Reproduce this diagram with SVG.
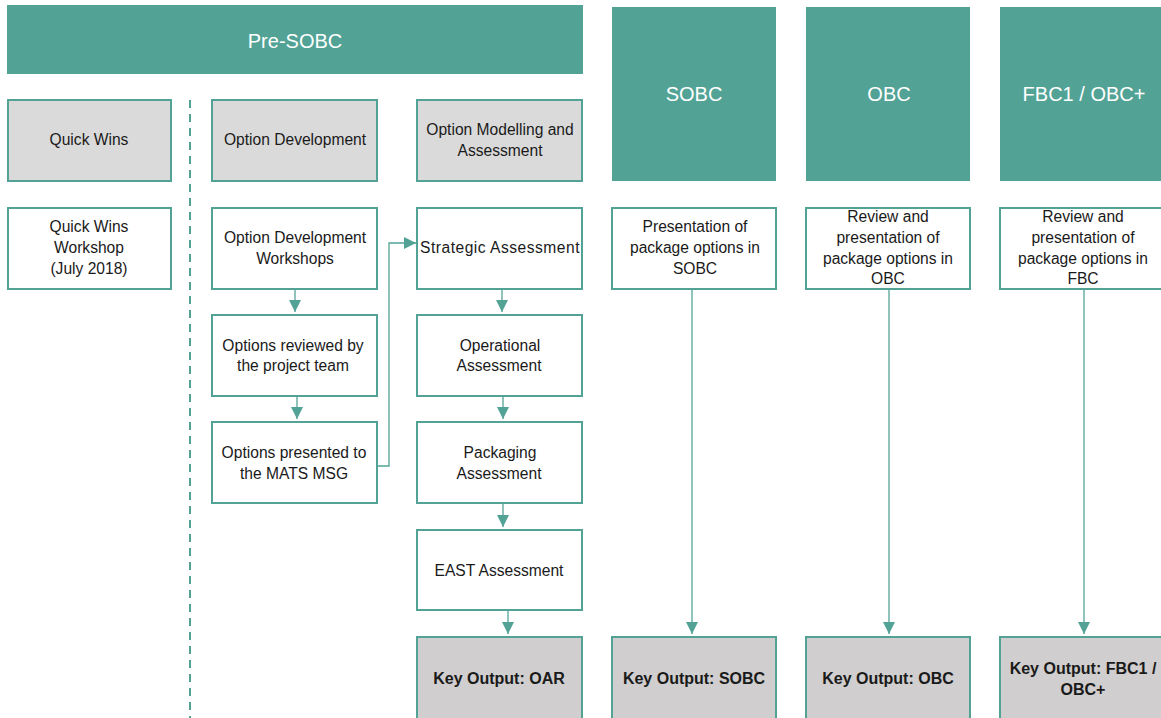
<svg xmlns="http://www.w3.org/2000/svg" width="1161" height="718" viewBox="0 0 1161 718">
<style>
text{font-family:"Liberation Sans",Arial,sans-serif;font-size:15.6px;fill:#1a1a1a;text-anchor:middle}
.hd{fill:#52A396}
.hd-t{fill:#ffffff;font-size:20px}
.g{fill:#DADADA;stroke:#52A396;stroke-width:2}
.w{fill:#ffffff;stroke:#52A396;stroke-width:2}
.k{fill:#D0CECE;stroke:#52A396;stroke-width:2}
.kt{font-weight:bold;font-size:16px}
.c{fill:none;stroke:#52A396;stroke-width:1.3}
</style>
<defs>
<marker id="ah" markerWidth="12" markerHeight="12" refX="12" refY="6" orient="auto" markerUnits="userSpaceOnUse">
<path d="M0,0 L12,6 L0,12 Z" fill="#52A396"/>
</marker>
</defs>
<g id="hdr-presobc"><rect class="hd" x="7" y="5" width="576" height="69"/><text class="hd-t" x="295" y="48">Pre-SOBC</text></g>
<g id="hdr-sobc"><rect class="hd" x="612" y="7" width="164" height="174"/><text class="hd-t" x="694" y="101">SOBC</text></g>
<g id="hdr-obc"><rect class="hd" x="806" y="7" width="164" height="174"/><text class="hd-t" x="889" y="101">OBC</text></g>
<g id="hdr-fbc"><rect class="hd" x="1000" y="7" width="161" height="174"/><text class="hd-t" x="1084" y="101">FBC1 / OBC+</text></g>

<line x1="190" y1="100" x2="190" y2="718" stroke="#52A396" stroke-width="2" stroke-dasharray="8,6"/>

<g id="quick-wins"><rect class="g" x="8" y="100" width="163" height="81"/><text x="89" y="145">Quick Wins</text></g>
<g id="option-dev"><rect class="g" x="212" y="100" width="165" height="81"/><text x="295" y="145">Option Development</text></g>
<g id="option-model"><rect class="g" x="417" y="100" width="165" height="81"/><text x="500" y="135">Option Modelling and</text><text x="500" y="156">Assessment</text></g>

<g id="qw-workshop"><rect class="w" x="8" y="208" width="163" height="81"/><text x="89" y="232">Quick Wins</text><text x="89" y="253">Workshop</text><text x="89" y="274">(July 2018)</text></g>
<g id="od-workshops"><rect class="w" x="212" y="208" width="165" height="81"/><text x="295" y="243">Option Development</text><text x="295" y="264">Workshops</text></g>
<g id="opts-reviewed"><rect class="w" x="212" y="315" width="165" height="81"/><text x="293" y="351">Options reviewed by</text><text x="293" y="371">the project team</text></g>
<g id="opts-presented"><rect class="w" x="212" y="422" width="165" height="81"/><text x="294" y="458">Options presented to</text><text x="294" y="479">the MATS MSG</text></g>

<g id="strategic"><rect class="w" x="417" y="208" width="165" height="81"/><text x="500" y="253" style="letter-spacing:0.5px">Strategic Assessment</text></g>
<g id="operational"><rect class="w" x="417" y="315" width="165" height="81"/><text x="500" y="351">Operational</text><text x="499" y="371">Assessment</text></g>
<g id="packaging"><rect class="w" x="417" y="422" width="165" height="81"/><text x="500" y="458">Packaging</text><text x="499" y="479">Assessment</text></g>
<g id="east"><rect class="w" x="417" y="530" width="165" height="80"/><text x="499" y="576">EAST Assessment</text></g>

<g id="sobc-pres"><rect class="w" x="612" y="208" width="164" height="81"/><text x="695" y="232">Presentation of</text><text x="695" y="253">package options in</text><text x="695" y="274">SOBC</text></g>
<g id="obc-review"><rect class="w" x="806" y="208" width="164" height="81"/><text x="888" y="222">Review and</text><text x="888" y="243">presentation of</text><text x="888" y="264">package options in</text><text x="888" y="284">OBC</text></g>
<g id="fbc-review"><rect class="w" x="1000" y="208" width="163" height="81"/><text x="1083" y="222">Review and</text><text x="1083" y="243">presentation of</text><text x="1083" y="264">package options in</text><text x="1083" y="284">FBC</text></g>

<g id="ko-oar"><rect class="k" x="417" y="637" width="165" height="82"/><text class="kt" x="499" y="684">Key Output: OAR</text></g>
<g id="ko-sobc"><rect class="k" x="612" y="637" width="164" height="82"/><text class="kt" x="694" y="684">Key Output: SOBC</text></g>
<g id="ko-obc"><rect class="k" x="806" y="637" width="164" height="82"/><text class="kt" x="888" y="684">Key Output: OBC</text></g>
<g id="ko-fbc"><rect class="k" x="1000" y="637" width="163" height="82"/><text class="kt" x="1083" y="674">Key Output: FBC1 /</text><text class="kt" x="1083" y="695">OBC+</text></g>

<g id="connectors">
<path class="c" d="M295,289 V312" marker-end="url(#ah)"/>
<path class="c" d="M297,396 V419" marker-end="url(#ah)"/>
<path class="c" d="M377,466 H389 V243 H416" marker-end="url(#ah)"/>
<path class="c" d="M502,289 V312" marker-end="url(#ah)"/>
<path class="c" d="M503,396 V419" marker-end="url(#ah)"/>
<path class="c" d="M503,503 V527" marker-end="url(#ah)"/>
<path class="c" d="M508,610 V634" marker-end="url(#ah)"/>
<path class="c" d="M692,289 V634" marker-end="url(#ah)"/>
<path class="c" d="M889,289 V634" marker-end="url(#ah)"/>
<path class="c" d="M1084,289 V634" marker-end="url(#ah)"/>
</g>
</svg>
